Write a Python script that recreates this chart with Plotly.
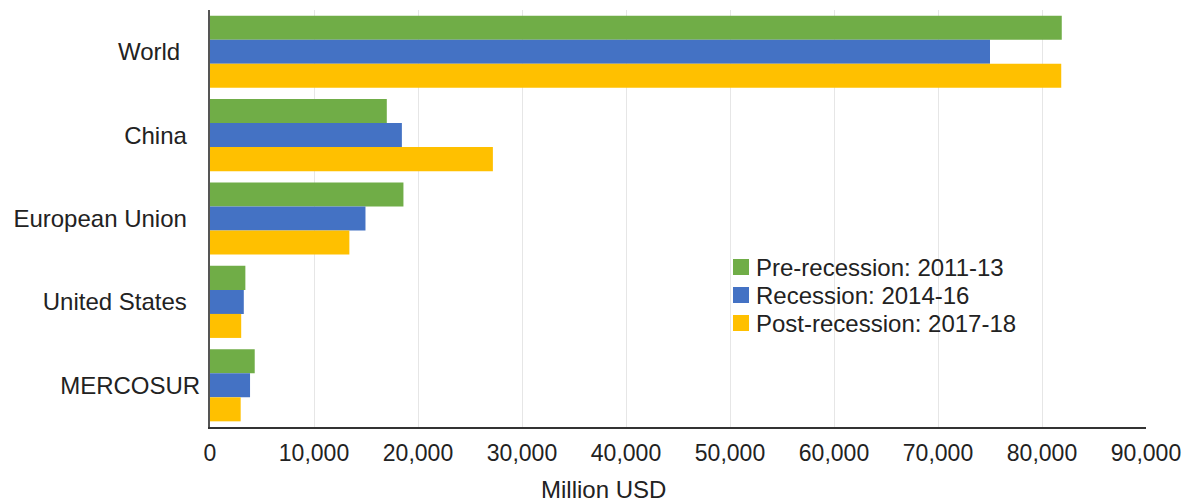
import plotly.graph_objects as go

categories = ["World", "China", "European Union", "United States", "MERCOSUR"]
pre_recession = [81900, 17000, 18600, 3400, 4300]
recession = [75000, 18450, 14950, 3250, 3850]
post_recession = [81850, 27200, 13400, 3000, 2950]
series_names = ["Pre-recession: 2011-13", "Recession: 2014-16", "Post-recession: 2017-18"]
colors = ["#70AD47", "#4472C4", "#FFC000"]
x_ticks = [0, 10000, 20000, 30000, 40000, 50000, 60000, 70000, 80000, 90000]
# trailing padding of category labels as laid out in the original
label_pad = [3, 2, 2, 2, 0]

fig = go.Figure()
for name, vals, col in zip(series_names, [pre_recession, recession, post_recession], colors):
    fig.add_trace(go.Bar(
        y=categories, x=vals, name=name, orientation="h",
        marker=dict(color=col, line=dict(width=0)),
        showlegend=False,
    ))

font_family = "Liberation Sans, Arial, Helvetica, sans-serif"
W, H = 1188, 503
ml, mr, mt, mb = 210, 42, 10, 76
pw, ph = W - ml - mr, H - mt - mb

def px_x(x):
    return (x - ml) / pw

def px_y(y):
    return (H - mb - y) / ph

fig.update_layout(
    width=W, height=H,
    margin=dict(l=ml, r=mr, t=mt, b=mb, autoexpand=False),
    plot_bgcolor="white", paper_bgcolor="white",
    barmode="group", bargap=0.136, bargroupgap=0,
    font=dict(family=font_family, color="#222222", size=24),
    showlegend=False,
)
fig.update_yaxes(
    autorange="reversed", showgrid=False, automargin=False,
    showline=True, linecolor="#555555", linewidth=2,
    tickvals=categories,
    ticktext=[c + "\u00a0" * p for c, p in zip(categories, label_pad)],
    ticks="", tickfont=dict(size=24, color="#222222"),
    ticklabelstandoff=3,
)
fig.update_xaxes(
    range=[0, 90000], tickvals=x_ticks, automargin=False,
    ticktext=[f"{v:,}" for v in x_ticks],
    showgrid=True, gridcolor="#e6e6e6", gridwidth=1,
    showline=True, linecolor="#333333", linewidth=2,
    ticks="", tickfont=dict(size=23, color="#222222"),
    ticklabelstandoff=4,
    zeroline=False,
)

# legend drawn manually (square + label)
row_y = [267, 295, 323]
for name, col, yc in zip(series_names, colors, row_y):
    fig.add_shape(
        type="rect", xref="paper", yref="paper",
        x0=px_x(733), x1=px_x(749), y0=px_y(yc + 8), y1=px_y(yc - 8),
        fillcolor=col, line=dict(width=0),
    )
    fig.add_annotation(
        text=name, xref="paper", yref="paper",
        x=px_x(754), y=px_y(yc), xanchor="left", yanchor="middle",
        showarrow=False, font=dict(size=24, color="#222222"),
    )

fig.add_annotation(
    text="Million USD", xref="paper", yref="paper",
    x=px_x(603), y=px_y(489), xanchor="center", yanchor="middle",
    showarrow=False, font=dict(size=24, color="#222222"),
)
fig.write_html("out.html")
